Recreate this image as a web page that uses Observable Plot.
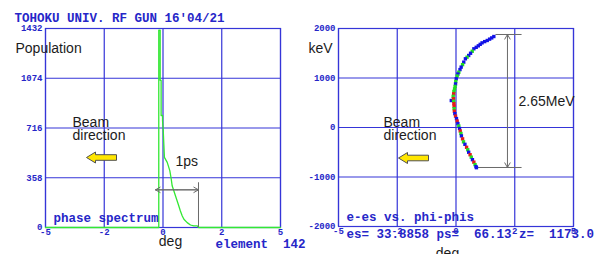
<!DOCTYPE html>
<html>
<head>
<meta charset="utf-8">
<script src="https://cdn.jsdelivr.net/npm/d3@7"></script>
<script src="https://cdn.jsdelivr.net/npm/@observablehq/plot@0.6"></script>
<style>
  html, body { margin: 0; padding: 0; background: #fff; }
  #chart { position: relative; width: 599px; height: 254px; overflow: hidden; }
  #left, #right { position: absolute; top: 0; }
  #left { left: 0; }
  #right { left: 300px; }
</style>
</head>
<body>
<div id="chart"><div id="left"></div><div id="right"></div></div>
<script>
// ---------- data ----------
const title = "TOHOKU UNIV. RF GUN 16'04/21";
const leftCaption = "phase spectrum";
const elementLabel = "element  142";
const rightCaption = "e-es vs. phi-phis";
const statusLine = "es= 33.8858 ps=  66.13 z=  1173.0";
const popLabel = "Population";
const kevLabel = "keV";
const degLabel = "deg";
const beamLine1 = "Beam";
const beamLine2 = "direction";
const psLabel = "1ps";
const mevLabel = "2.65MeV";

// x tick positions (grid) and printed labels
const phaseTicks = [-5, -2.5, 0, 2.5, 5];
const phaseTickLabels = ["-5", "-2", "0", "2", "5"];
const popTicks = [0, 358, 716, 1074, 1432];
const popTickLabels = ["0", "358", "716", "1074", "1432"];
const kevTicks = [-2000, -1000, 0, 1000, 2000];
const kevTickLabels = ["-2000", "-1000", "0", "1000", "2000"];

// phase spectrum (step outline)
const specPhase = [-5, -0.18, -0.18, -0.12, -0.12, -0.08, -0.08, -0.02, -0.02, 0.01, 0.06, 0.18, 0.29, 0.35, 0.39, 0.46, 0.53, 0.60, 0.67, 0.74, 0.82, 0.89, 1.03, 1.17, 1.31, 1.46, 1.52, 5];
const specCount = [0, 0, 1421, 1421, 1059, 1059, 806, 806, 770, 698, 505, 469, 409, 349, 300, 264, 228, 192, 156, 119, 83, 59, 35, 18, 11, 11, 0, 0];

// e-es vs phi-phis scatter
const dPhi = [1.61, 1.52, 1.43, 1.33, 1.22, 1.11, 1.03, 0.95, 0.86, 0.76, 0.69, 0.62, 0.54, 0.47, 0.40, 0.33, 0.28, 0.22, 0.17, 0.12, 0.08, 0.05, 0.01, -0.01, -0.02, -0.04, -0.06, -0.09, -0.10, -0.12, -0.20, -0.11, -0.10, -0.09, -0.08, -0.08, -0.07, -0.05, -0.02, 0.02, 0.05, 0.08, 0.12, 0.15, 0.18, 0.21, 0.23, 0.28, 0.32, 0.38, 0.45, 0.50, 0.54, 0.60, 0.65, 0.70, 0.76, 0.81, 0.85, 0.87];
const dE   = [1838, 1810, 1785, 1758, 1735, 1710, 1680, 1650, 1620, 1590, 1540, 1500, 1455, 1420, 1388, 1320, 1270, 1220, 1170, 1117, 1080, 1040, 984, 930, 880, 830, 780, 730, 680, 630, 545, 580, 530, 480, 430, 380, 330, 280, 230, 180, 130, 80, 30, -20, -70, -120, -170, -230, -290, -340, -400, -450, -500, -550, -600, -650, -700, -750, -790, -812];
const dSpecies = ["b","b","b","b","b","b","b","b","b","b","g","b","b","g","b","b","g","b","b","g","b","g","b","g","b","g","g","g","r","g","b","r","g","r","r","g","r","b","r","b","r","b","g","b","r","g","b","r","g","b","r","g","b","r","g","b","r","g","b","b"];

// ---------- styles ----------
const BLUE = "#3535d8";
const TEXTBLUE = "#2626c8";
const GREEN = "#33e833";
const GRAY = "#6a6a6a";
const INK = "#1c1c1c";
const SANS = "Liberation Sans, Arial, sans-serif";
const MONO = "Liberation Mono, DejaVu Sans Mono, monospace";

const spectrum = specPhase.map((x, i) => ({x, y: specCount[i]}));
const particles = dPhi.map((x, i) => ({x, y: dE[i], s: dSpecies[i]}));
const phaseFmt = new Map(phaseTicks.map((t, i) => [t, phaseTickLabels[i]]));
const popFmt = new Map(popTicks.map((t, i) => [t, popTickLabels[i]]));
const kevFmt = new Map(kevTicks.map((t, i) => [t, kevTickLabels[i]]));

const blockArrow = {
  draw(ctx) {
    ctx.moveTo(-15, 0); ctx.lineTo(-6, -5.5); ctx.lineTo(-6, -2.8);
    ctx.lineTo(15, -2.8); ctx.lineTo(15, 2.8); ctx.lineTo(-6, 2.8);
    ctx.lineTo(-6, 5.5); ctx.closePath();
  }
};

const sansText = (t, dx, dy, extra = {}) => Plot.text([t], {
  frameAnchor: "top-left", dx, dy, lineAnchor: "bottom", textAnchor: "start",
  fontFamily: SANS, fontSize: 14, fill: INK, ...extra
});
const monoText = (t, dx, dy, extra = {}) => Plot.text([t], {
  frameAnchor: "top-left", dx, dy, lineAnchor: "bottom", textAnchor: "start",
  fontFamily: MONO, fontSize: 12.5, fontWeight: "bold", fill: TEXTBLUE, ...extra
});
const commonAxis = {tickSize: 0, color: TEXTBLUE, fontFamily: MONO, fontSize: 9, fontWeight: "bold", label: null};

// ---------- left: phase spectrum ----------
const left = Plot.plot({
  width: 300, height: 254,
  marginLeft: 45, marginRight: 20, marginTop: 28, marginBottom: 27,
  style: {background: "transparent", overflow: "visible"},
  x: {domain: [-5, 5], axis: null},
  y: {domain: [0, 1432], axis: null},
  marks: [
    Plot.gridX(phaseTicks, {stroke: BLUE, strokeOpacity: 1, strokeWidth: 1.2}),
    Plot.gridY(popTicks, {stroke: BLUE, strokeOpacity: 1, strokeWidth: 1.2}),
    Plot.frame({stroke: BLUE, strokeWidth: 1.2}),
    Plot.axisY(popTicks, {...commonAxis, tickPadding: 3, tickFormat: d => popFmt.get(d)}),
    Plot.axisX(phaseTicks, {...commonAxis, tickPadding: 1, tickFormat: d => phaseFmt.get(d)}),
    Plot.line(spectrum, {x: "x", y: "y", stroke: GREEN, strokeWidth: 1.3}),
    Plot.link([0], {x1: -0.32, x2: 1.51, y1: 271, y2: 271, stroke: GRAY, strokeWidth: 1}),
    Plot.arrow([-0.32, 1.51], {x1: 0.6, y1: 271, x2: d => d, y2: 271, stroke: GRAY, strokeWidth: 1, headLength: 8}),
    Plot.ruleX([1.51], {y1: 0, y2: 322, stroke: GRAY, strokeWidth: 1}),
    Plot.dot([0], {frameAnchor: "top-left", dx: 56, dy: 129, symbol: blockArrow, fill: "#ffe600", stroke: "#505050", strokeWidth: 1}),
    monoText(title, -31, -7),
    sansText(popLabel, -30, 24),
    sansText(beamLine1, 27, 98),
    sansText(beamLine2, 27, 111),
    sansText(psLabel, 130, 137),
    sansText(degLabel, 125, 217, {textAnchor: "middle"}),
    monoText(leftCaption, 8, 193),
    monoText(elementLabel, 170, 219)
  ]
});
document.getElementById("left").append(left);

// ---------- right: energy vs phase ----------
const right = Plot.plot({
  width: 299, height: 254,
  marginLeft: 38, marginRight: 26, marginTop: 28, marginBottom: 28,
  style: {background: "transparent", overflow: "visible"},
  x: {domain: [-5, 5], axis: null},
  y: {domain: [-2000, 2000], axis: null},
  color: {domain: ["b", "g", "r"], range: ["#1212e6", "#22dd22", "#e41a1a"]},
  marks: [
    Plot.gridX(phaseTicks, {stroke: BLUE, strokeOpacity: 1, strokeWidth: 1.2}),
    Plot.gridY(kevTicks, {stroke: BLUE, strokeOpacity: 1, strokeWidth: 1.2}),
    Plot.frame({stroke: BLUE, strokeWidth: 1.2}),
    Plot.axisY(kevTicks, {...commonAxis, tickPadding: 3, tickFormat: d => kevFmt.get(d)}),
    Plot.axisX(phaseTicks, {...commonAxis, tickPadding: 1, tickFormat: d => phaseFmt.get(d)}),
    Plot.link([1879, -808], {x1: d => d > 0 ? 1.68 : 0.87, x2: 2.79, y1: d => d, y2: d => d, stroke: GRAY, strokeWidth: 1}),
    Plot.arrow([1879, -808], {x1: 2.19, y1: 535, x2: 2.19, y2: d => d, stroke: GRAY, strokeWidth: 1, headLength: 8}),
    Plot.dot(particles, {x: "x", y: "y", fill: "s", symbol: "square", r: 1.9}),
    Plot.dot([0], {frameAnchor: "top-left", dx: 75, dy: 129.5, symbol: blockArrow, fill: "#ffe600", stroke: "#505050", strokeWidth: 1}),
    sansText(kevLabel, -30, 24),
    sansText(beamLine1, 45, 98),
    sansText(beamLine2, 45, 111),
    sansText(mevLabel, 180, 77),
    sansText(degLabel, 109, 229, {textAnchor: "middle"}),
    monoText(rightCaption, 8, 192),
    monoText(statusLine, 8, 209)
  ]
});
document.getElementById("right").append(right);
</script>
</body>
</html>
